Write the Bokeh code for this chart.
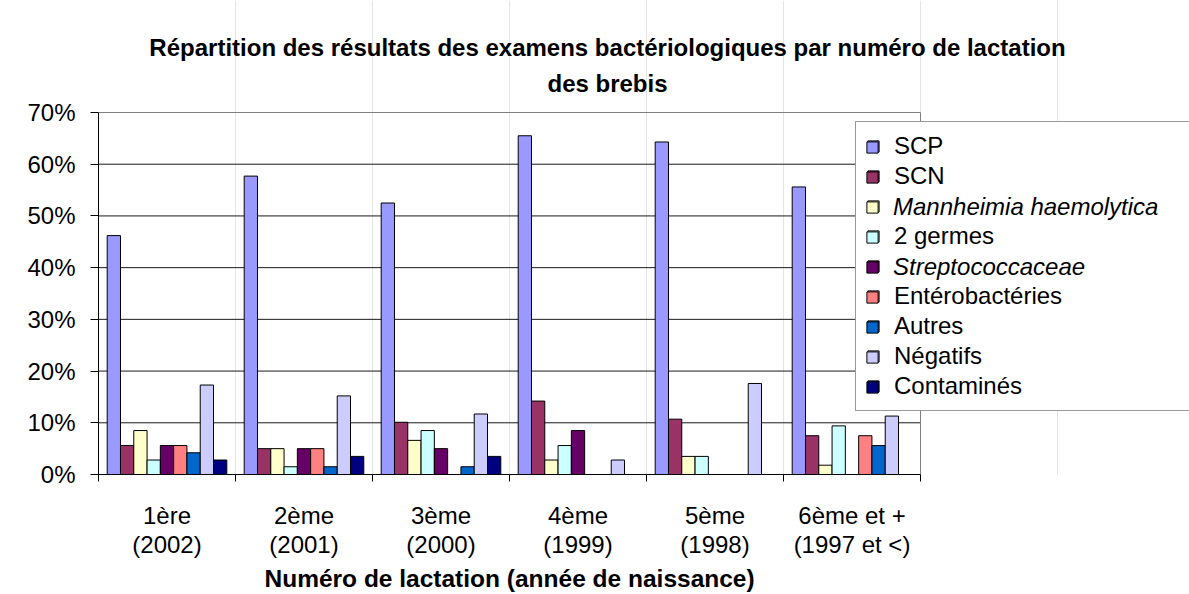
from bokeh.plotting import figure
from bokeh.models import (Range1d, LinearAxis, FixedTicker, PrintfTickFormatter, Legend,
                          LegendItem, Label, ColumnDataSource, Title)
from bokeh.transform import dodge
from bokeh.embed import file_html
from bokeh.resources import INLINE

FONT = "Liberation Sans"

categories = ["1ère\n(2002)", "2ème\n(2001)", "3ème\n(2000)", "4ème\n(1999)", "5ème\n(1998)",
              "6ème et +\n(1997 et <)"]
series_names = ["SCP", "SCN", "Mannheimia haemolytica", "2 germes", "Streptococcaceae",
                "Entérobactéries", "Autres", "Négatifs", "Contaminés"]
italic_series = ["Mannheimia haemolytica", "Streptococcaceae"]

scp = [46.2, 57.7, 52.5, 65.5, 64.3, 55.6]
scn = [5.6, 5.0, 10.1, 14.2, 10.7, 7.5]
mannheimia = [8.5, 5.0, 6.6, 2.8, 3.5, 1.8]
deux_germes = [2.8, 1.5, 8.5, 5.6, 3.5, 9.4]
strepto = [5.6, 5.0, 5.0, 8.5, 0.0, 0.0]
entero = [5.6, 5.0, 0.0, 0.0, 0.0, 7.5]
autres = [4.2, 1.5, 1.5, 0.0, 0.0, 5.6]
negatifs = [17.3, 15.2, 11.7, 2.8, 17.6, 11.3]
contamines = [2.8, 3.5, 3.5, 0.0, 0.0, 0.0]

colors = ["#9999FF", "#993366", "#FFFFCC", "#CCFFFF", "#660066",
          "#FF8080", "#0066CC", "#CCCCFF", "#000080"]

y_ticks = [0, 10, 20, 30, 40, 50, 60, 70]
y_max = 70

# layout (pixels): the plotted area spans AREA_W x AREA_H px inside a frame that also
# holds the title and the legend
W, H = 1189, 594
LEFT, BOTTOM = 98, 120
AREA_W, AREA_H = 822, 362
frame_w = W - LEFT
frame_h = H - BOTTOM

n_cat = len(categories)
centers = [i + 0.5 for i in range(n_cat)]
series_values = [scp, scn, mannheimia, deux_germes, strepto, entero, autres, negatifs, contamines]
data = {"xc": centers}
for i, vals in enumerate(series_values):
    data[f"s{i}"] = vals
source = ColumnDataSource(data)

p = figure(x_range=Range1d(0, n_cat * frame_w / AREA_W),
           y_range=Range1d(0, y_max * frame_h / AREA_H),
           width=W, height=H, output_backend="svg", toolbar_location=None,
           x_axis_location=None, min_border_left=LEFT, min_border_right=0,
           min_border_top=0, min_border_bottom=BOTTOM)
p.background_fill_color = "white"
p.border_fill_color = "white"
p.outline_line_color = None
p.ygrid.visible = False

# y axis
yax = p.yaxis[0]
yax.ticker = FixedTicker(ticks=y_ticks)
yax.bounds = (0, y_max)
yax.formatter = PrintfTickFormatter(format="%d%%")
yax.major_label_text_font = FONT
yax.major_label_text_font_size = "24px"
yax.major_label_text_color = "black"
yax.major_tick_out = 8
yax.major_tick_in = 0
yax.minor_tick_line_color = None
yax.axis_line_color = "black"
yax.major_tick_line_color = "black"
yax.major_label_standoff = 15

# gridlines and plot-area border, limited to the plotted area
grid_y = y_ticks[1:-1]
p.segment(x0=[0] * len(grid_y), x1=[n_cat] * len(grid_y), y0=grid_y, y1=grid_y,
          line_color="#1a1a1a", line_width=1)
p.segment(x0=[0, n_cat], x1=[n_cat, n_cat], y0=[y_max, 0], y1=[y_max, y_max],
          line_color="#808080", line_width=1)

# boundary ticks axis
tick_axis = LinearAxis(ticker=FixedTicker(ticks=list(range(n_cat + 1))), bounds=(0, n_cat),
                       major_tick_out=7, major_tick_in=0, minor_tick_line_color=None,
                       major_label_text_font_size="1px", major_label_text_color=None,
                       major_label_standoff=0,
                       axis_line_color="black", major_tick_line_color="black")
p.add_layout(tick_axis, "below")

cat_axis = LinearAxis(ticker=FixedTicker(ticks=centers),
                      major_label_overrides={c: lab for c, lab in zip(centers, categories)},
                      major_tick_line_color=None, major_tick_out=0, major_tick_in=0,
                      minor_tick_line_color=None,
                      axis_line_color=None, major_label_text_font=FONT,
                      major_label_text_font_size="24px", major_label_text_color="black",
                      major_label_text_line_height=1.1,
                      major_label_standoff=20)
p.add_layout(cat_axis, "below")

p.add_layout(Title(text="Numéro de lactation (année de naissance)", align="left", offset=166,
                   text_font=FONT, text_font_style="bold", text_font_size="24.5px",
                   text_color="black", standoff=2), "below")

bw = 0.097
renderers = []
for j, name in enumerate(series_names):
    r = p.vbar(x=dodge("xc", (j - 4) * bw), top=f"s{j}", width=bw,
               source=source, fill_color=colors[j], line_color="black", line_width=1)
    renderers.append(r)

# legend: an upright legend, and an identical transparent legend on top of it that
# carries the italic names
leg_common = dict(location=(757, 63), orientation="vertical", padding=10, spacing=2,
                  glyph_width=14, glyph_height=14, label_height=28, label_width=310,
                  label_standoff=14, label_text_font=FONT, label_text_font_size="24px",
                  label_text_color="black", margin=0, border_line_width=1)
items_upright = [LegendItem(label=(n if n not in italic_series else " "), renderers=[r])
                 for n, r in zip(series_names, renderers)]
items_italic = [LegendItem(label=(n if n in italic_series else " "), renderers=[r])
                for n, r in zip(series_names, renderers)]
leg1 = Legend(items=items_upright, border_line_color="#333333",
              background_fill_color="white", background_fill_alpha=1.0, **leg_common)
leg2 = Legend(items=items_italic, border_line_color="white", border_line_alpha=0.0,
              background_fill_alpha=0.0, label_text_font_style="italic", **leg_common)
p.add_layout(leg1, "center")
p.add_layout(leg2, "center")

title_lines = ["Répartition des résultats des examens bactériologiques par numéro de lactation",
               "des brebis"]
for k, line in enumerate(title_lines):
    p.add_layout(Label(x=509, y=427 - 36 * k, x_units="screen", y_units="screen", text=line,
                       text_align="center", text_baseline="middle", text_font=FONT,
                       text_font_style="bold", text_font_size="24px", text_color="black"))

open("out.html", "w").write(file_html(p, INLINE))
